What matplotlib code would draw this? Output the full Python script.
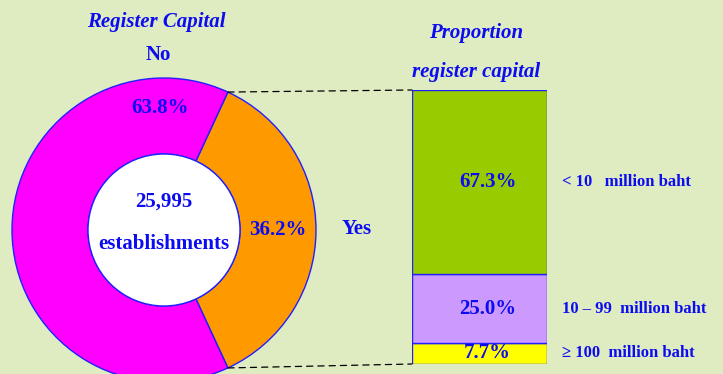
import matplotlib.pyplot as plt
import numpy as np
from matplotlib.patches import ConnectionPatch

# donut: share of establishments with registered capital
donut_labels = ["Yes", "No"]
donut_values = [36.2, 63.8]
total_establishments = "25,995"

# stacked bar: breakdown of the "Yes" slice
bar_labels = ["\u2265 100  million baht", "10 \u2013 99  million baht", "< 10   million baht"]
bar_values = [7.7, 25.0, 67.3]

BG = "#DFEBC0"
BLUE = "#0C0CF0"
EDGE = "#2020FF"
donut_colors = ["#FF9900", "#FF00FF"]
bar_colors = ["#FFFF00", "#CC99FF", "#99CC00"]

plt.rcParams["font.family"] = ["Liberation Serif", "DejaVu Serif"]
plt.rcParams["font.weight"] = "bold"
FS = 15

W, H = 723, 374
fig = plt.figure(figsize=(W / 100, H / 100), dpi=100, facecolor=BG)
ax = fig.add_axes([0, 0, 1, 1])
ax.set_facecolor(BG)

cx, cy, r_out, ring = 164, 144, 152, 76
half = donut_values[0] / 100 * 360 / 2
wedges, _ = ax.pie(
    donut_values,
    colors=donut_colors,
    radius=r_out,
    center=(cx, cy),
    startangle=-half,
    counterclock=True,
    wedgeprops=dict(width=ring, edgecolor=EDGE, linewidth=1.0),
)
# white hole in the middle
ax.add_patch(plt.Circle((cx, cy), r_out - ring, facecolor="white", edgecolor=EDGE, lw=1.0, zorder=3))
ax.set_xlim(0, W)
ax.set_ylim(0, H)
ax.set_aspect("equal")
ax.axis("off")

r_mid = r_out - ring / 2
th_yes = np.deg2rad((wedges[0].theta1 + wedges[0].theta2) / 2)
ax.text(cx + r_mid * np.cos(th_yes), cy + r_mid * np.sin(th_yes), f"{donut_values[0]:.1f}%",
        color=BLUE, fontsize=FS, ha="center", va="center", zorder=4)
ax.text(357, H - 229, donut_labels[0], color=BLUE, fontsize=FS, ha="center", va="center")
ax.text(cx - 4, H - 108, f"{donut_values[1]:.1f}%", color=BLUE, fontsize=FS, ha="center", va="center")
ax.text(158, H - 55, donut_labels[1], color=BLUE, fontsize=FS, ha="center", va="center")
ax.text(cx, H - 202, total_establishments, color=BLUE, fontsize=FS, ha="center", va="center", zorder=4)
ax.text(cx, H - 244, "establishments", color=BLUE, fontsize=FS, ha="center", va="center", zorder=4)
ax.text(156, H - 22, "Register Capital", color=BLUE, fontsize=FS, style="italic",
        ha="center", va="center")
ax.text(476, H - 33, "Proportion", color=BLUE, fontsize=FS, style="italic", ha="center", va="center")
ax.text(476, H - 72, "register capital", color=BLUE, fontsize=FS, style="italic",
        ha="center", va="center")

# proportion bar
bx = fig.add_axes([412 / W, 10 / H, 135 / W, 274 / H])
bx.set_xlim(0, 1)
bx.set_ylim(0, sum(bar_values))
bx.axis("off")
bottoms = np.concatenate([[0], np.cumsum(bar_values)[:-1]])
bx.bar(0.5, bar_values, width=1.0, bottom=bottoms, color=bar_colors,
       edgecolor=EDGE, linewidth=1.0)
for b, v, lab in zip(bottoms, bar_values, bar_labels):
    bx.text(0.56, b + v / 2, f"{v:.1f}%", color=BLUE, fontsize=FS, ha="center", va="center")
    bx.text(1.11, b + v / 2, lab, color=BLUE, fontsize=12, ha="left", va="center",
            transform=bx.get_yaxis_transform())

# dashed connectors from the "Yes" slice to the bar
for ang, yb in [(wedges[0].theta2, sum(bar_values)), (wedges[0].theta1, 0)]:
    t = np.deg2rad(ang)
    con = ConnectionPatch(
        xyA=(cx + r_out * np.cos(t), cy + r_out * np.sin(t)), coordsA=ax.transData,
        xyB=(0, yb), coordsB=bx.transData,
        color="black", linestyle=(0, (5, 4)), linewidth=0.9,
    )
    fig.add_artist(con)

fig.savefig("out.png", dpi=100, facecolor=BG)
